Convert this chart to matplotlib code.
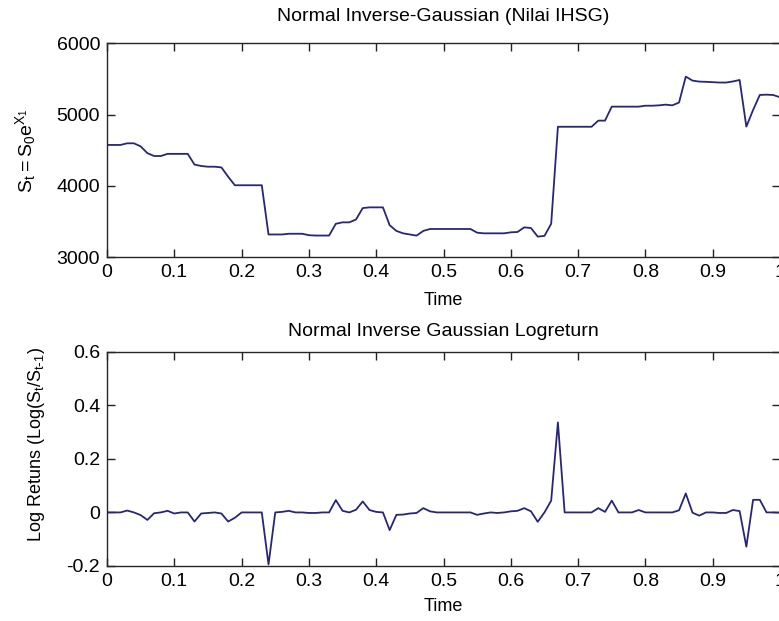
import matplotlib
matplotlib.use("Agg")
import matplotlib.pyplot as plt
import numpy as np

plt.rcParams['font.family'] = ['Liberation Sans', 'DejaVu Sans']
plt.rcParams['mathtext.default'] = 'regular'

# ---- data ----
time = [round(i * 0.01, 2) for i in range(101)]

price = [4575, 4575, 4575, 4598, 4598, 4555, 4460, 4420, 4420, 4450,
         4450, 4450, 4450, 4300, 4280, 4270, 4270, 4260, 4130, 4010,
         4010, 4010, 4010, 4010, 3320, 3320, 3320, 3330, 3330, 3330,
         3310, 3305, 3305, 3305, 3470, 3490, 3490, 3530, 3690, 3700,
         3700, 3700, 3450, 3370, 3336, 3320, 3304, 3370, 3397, 3397,
         3397, 3397, 3397, 3397, 3397, 3345, 3336, 3336, 3336, 3336,
         3350, 3355, 3420, 3410, 3290, 3300, 3470, 4830, 4830, 4830,
         4830, 4830, 4830, 4916, 4916, 5112, 5112, 5112, 5112, 5112,
         5125, 5125, 5130, 5140, 5130, 5170, 5533, 5477, 5463, 5460,
         5455, 5450, 5450, 5465, 5486, 4832, 5065, 5276, 5280, 5275,
         5243]

logret = [0, 0, 0, 0.007, 0, -0.010, -0.028, -0.003, 0, 0.006,
          -0.004, 0, 0, -0.034, -0.004, -0.002, 0, -0.004, -0.034, -0.020,
          0, 0, 0, 0, -0.194, 0, 0.002, 0.006, 0, 0,
          -0.002, -0.002, 0, 0, 0.046, 0.006, 0, 0.010, 0.041, 0.009,
          0.002, 0, -0.066, -0.009, -0.008, -0.004, -0.002, 0.016, 0.004, 0,
          0, 0, 0, 0, 0, -0.009, -0.004, 0, -0.002, 0,
          0.004, 0.006, 0.016, 0.004, -0.035, 0, 0.044, 0.336, 0, 0,
          0, 0, 0, 0.016, 0.002, 0.044, 0, 0, 0, 0.009,
          0, 0, 0, 0, 0, 0.008, 0.071, -0.001, -0.012, 0,
          0, -0.002, -0.002, 0.009, 0.005, -0.128, 0.047, 0.047, 0, 0,
          -0.001]

xticks = [0, 0.1, 0.2, 0.3, 0.4, 0.5, 0.6, 0.7, 0.8, 0.9, 1.0]
xticklabels = ['0', '0.1', '0.2', '0.3', '0.4', '0.5', '0.6', '0.7', '0.8', '0.9', '1']
yticks_top = [3000, 4000, 5000, 6000]
yticklabels_top = ['3000', '4000', '5000', '6000']
yticks_bot = [-0.2, 0, 0.2, 0.4, 0.6]
yticklabels_bot = ['-0.2', '0', '0.2', '0.4', '0.6']

title_top = 'Normal Inverse-Gaussian (Nilai IHSG)'
title_bot = 'Normal Inverse Gaussian Logreturn'
ylabel_top = r'$S_t = S_0e^{X_1}$'
ylabel_bot = r'Log Retuns (Log(S$_t$/S$_{t\text{-}1}$)'

# ---- figure ----
W, H = 779, 621
fig = plt.figure(figsize=(W / 100, H / 100), dpi=100)
fig.patch.set_facecolor('white')

line_color = '#26267a'
FS = 14

def style(ax):
    ax.tick_params(direction='in', length=6, width=1.0, top=True, right=True,
                   labelsize=FS, pad=5, colors='#222222', labelcolor='black')
    for s in ax.spines.values():
        s.set_linewidth(1.0)
        s.set_color('#262626')

ax1 = fig.add_axes([107 / W, 1 - 257.3 / H, 673 / W, 214 / H])
ax1.plot(time, price, color=line_color, lw=1.3)
ax1.set_xlim(0, 1)
ax1.set_ylim(3000, 6000)
ax1.set_xticks(xticks)
ax1.set_xticklabels(xticklabels)
ax1.set_yticks(yticks_top)
ax1.set_yticklabels(yticklabels_top)
style(ax1)
ax1.set_title(title_top, fontsize=FS, pad=16)
ax1.set_xlabel('Time', fontsize=FS - 1)
ax1.xaxis.set_label_coords(0.5, -0.16)
ax1.set_ylabel(ylabel_top, fontsize=FS)
ax1.yaxis.set_label_coords(-0.103, 0.5)

ax2 = fig.add_axes([107 / W, 1 - 566 / H, 673 / W, 214.3 / H])
ax2.plot(time, logret, color=line_color, lw=1.3)
ax2.set_xlim(0, 1)
ax2.set_ylim(-0.2, 0.6)
ax2.set_xticks(xticks)
ax2.set_xticklabels(xticklabels)
ax2.set_yticks(yticks_bot)
ax2.set_yticklabels(yticklabels_bot)
style(ax2)
ax2.set_title(title_bot, fontsize=FS, pad=11.5)
ax2.set_xlabel('Time', fontsize=FS - 1)
ax2.xaxis.set_label_coords(0.5, -0.15)
ax2.set_ylabel(ylabel_bot, fontsize=FS - 1)
ax2.yaxis.set_label_coords(-0.089, 0.565)

fig.savefig('out.png', dpi=100, facecolor='white')
